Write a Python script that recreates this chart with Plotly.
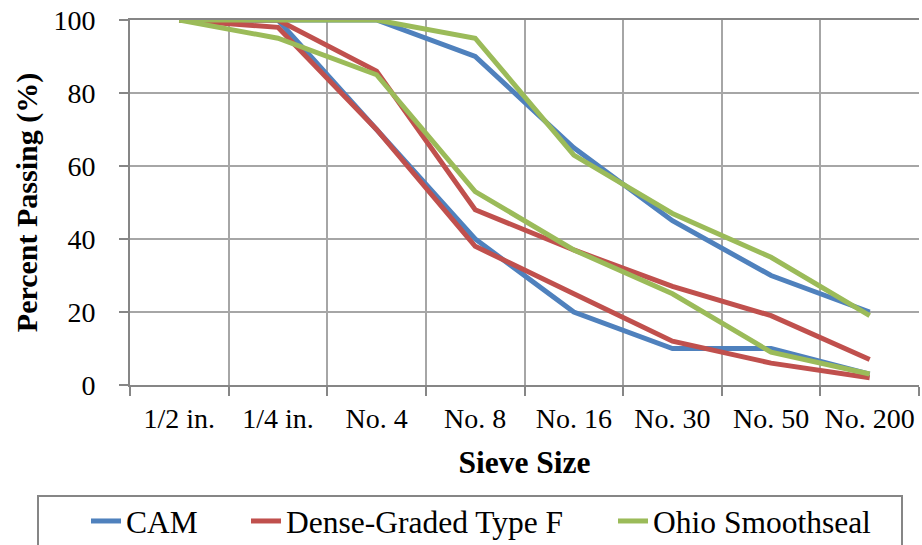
import plotly.graph_objects as go

sieves = ["1/2 in.", "1/4 in.", "No. 4", "No. 8", "No. 16", "No. 30", "No. 50", "No. 200"]

cam_upper = [100, 100, 100, 90, 65, 45, 30, 20]
cam_lower = [100, 100, 70, 40, 20, 10, 10, 3]
dense_upper = [100, 100, 86, 48, 37, 27, 19, 7]
dense_lower = [100, 98, 70, 38, 25, 12, 6, 2]
ohio_upper = [100, 100, 100, 95, 63, 47, 35, 19]
ohio_lower = [100, 95, 85, 53, 37, 25, 9, 3]

series = [
    ("CAM", "#4F81BD", cam_upper, cam_lower, "legend"),
    ("Dense-Graded Type F", "#C0504D", dense_upper, dense_lower, "legend2"),
    ("Ohio Smoothseal", "#9BBB59", ohio_upper, ohio_lower, "legend3"),
]

FONT = "Liberation Serif"

fig = go.Figure()
for name, color, up, lo, lg in series:
    fig.add_trace(go.Scatter(x=sieves, y=up, mode="lines", name=name,
                             line=dict(color=color, width=5),
                             legendgroup=name, showlegend=True, legend=lg))
    fig.add_trace(go.Scatter(x=sieves, y=lo, mode="lines", name=name,
                             line=dict(color=color, width=5),
                             legendgroup=name, showlegend=False, legend=lg))

L, R, T, B = 130, 3, 20, 160
W, H = 922, 545
pw = W - L - R
ph = H - T - B

def px_x(x):
    return (x - L) / pw

def px_y(y):
    return (H - B - y) / ph

legend_common = dict(font=dict(family=FONT, size=31.5, color="black"),
                     bgcolor="rgba(0,0,0,0)", borderwidth=0,
                     xanchor="left", yanchor="middle", y=px_y(521),
                     orientation="h")

fig.update_layout(
    width=W, height=H,
    margin=dict(l=L, r=R, t=T, b=B, autoexpand=False),
    paper_bgcolor="white", plot_bgcolor="white",
    font=dict(family=FONT, size=28, color="black"),
    legend=dict(x=px_x(86), **legend_common),
    legend2=dict(x=px_x(246), **legend_common),
    legend3=dict(x=px_x(613), **legend_common),
    shapes=[dict(type="rect", xref="paper", yref="paper",
                 x0=px_x(38), x1=px_x(902), y0=px_y(496), y1=px_y(560),
                 line=dict(color="#868686", width=2), fillcolor="rgba(0,0,0,0)")],
)

fig.update_xaxes(
    type="category", range=[-0.5, 7.5], tickson="boundaries",
    showgrid=True, gridcolor="#A6A6A6", gridwidth=2,
    showline=True, linecolor="#868686", linewidth=2, mirror=True,
    ticks="outside", ticklen=9, tickcolor="#868686", tickwidth=2,
    tickfont=dict(family=FONT, size=28), ticklabelstandoff=7, tickangle=0,
    title=dict(text="<b>Sieve Size</b>", font=dict(family=FONT, size=31.5), standoff=18),
    zeroline=False, automargin=False,
)
fig.update_yaxes(
    range=[0, 100], dtick=20,
    showgrid=True, gridcolor="#A6A6A6", gridwidth=2,
    showline=True, linecolor="#868686", linewidth=2,
    ticks="outside", ticklen=9, tickcolor="#868686", tickwidth=2,
    tickfont=dict(family=FONT, size=28), ticklabelstandoff=18,
    title=dict(text="<b>Percent Passing (%)</b>", font=dict(family=FONT, size=30), standoff=7),
    zeroline=False, automargin=False,
)

fig.write_html("out.html")
